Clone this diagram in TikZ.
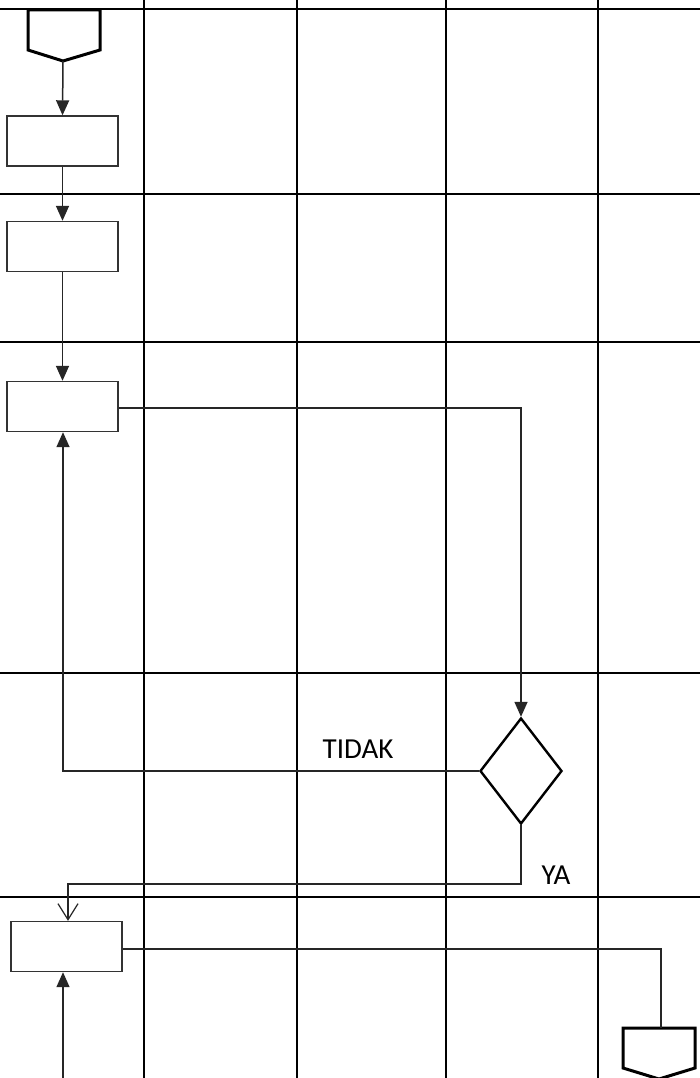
\documentclass[tikz,border=0pt]{standalone}
\usepackage{fontspec}
\setmainfont{Carlito}
\usetikzlibrary{arrows.meta,shapes.geometric}
\begin{document}
\begin{tikzpicture}[x=1pt,y=-1pt,
  grid/.style={line width=2.6pt,black},
  procbox/.style={draw=black!80,line width=1.4pt,rectangle,inner sep=0pt,minimum width=111pt,minimum height=50pt,fill=white},
  decision/.style={draw=black,line width=2.4pt,diamond,inner sep=0pt,minimum width=82pt,minimum height=106pt},
  offpage/.style={draw=black,line width=3pt,line join=miter},
  flow/.style={line width=1.5pt,black!85},
  farrow/.style={-{Triangle[length=15pt,width=13pt]}},
  oarrow/.style={-{Straight Barb[length=16pt,width=20pt,line width=1.2pt]}},
  lbl/.style={font=\fontsize{29}{34}\selectfont,inner sep=0pt}]
\useasboundingbox (0,0) rectangle (700,1078);
\fill[white] (0,0) rectangle (700,1078);
% grid
\foreach \x in {144,297,446,598} \draw[grid] (\x,0) -- (\x,1078);
\foreach \y in {9,194,342,673,897} \draw[grid] (0,\y) -- (700,\y);
% off-page connectors
\draw[offpage] (28,10) -- (100,10) -- (100,50) -- (63,61) -- (28,50) -- cycle;
\coordinate (top) at (63,61);
\draw[offpage] (623,1028) -- (695,1028) -- (695,1068) -- (659,1079) -- (623,1068) -- cycle;
\coordinate (bot) at (661,1028);
% nodes
\node[procbox] (b1) at (62.5,141) {};
\node[procbox] (b2) at (62.5,246.5) {};
\node[procbox] (b3) at (62.5,406.5) {};
\node[procbox] (b4) at (66.5,946.5) {};
\node[decision] (d) at (521,771) {};
\coordinate (in4) at (63,1078);
% connectors
\draw[flow,farrow] (top) -- (b1.north);
\draw[flow,farrow] (b1.south) -- (b2.north);
\draw[flow,farrow] (b2.south) -- (b3.north);
\draw[flow,farrow] ([yshift=-1.5pt]b3.east) -| (d.north);
\draw[flow,farrow] (d.west) -| ([xshift=0.5pt]b3.south);
\draw[flow,oarrow] (d.south) |- (68,884) -- ([xshift=1.5pt]b4.north);
\draw[flow] ([yshift=-2.5pt]b4.east) -| (bot);
\draw[flow,farrow] (in4) -- ([xshift=-3.5pt]b4.south);
% labels
\node[lbl] (tidak) at (358,749) {TIDAK};
\node[lbl] (ya) at (556,875) {YA};
\end{tikzpicture}
\end{document}
